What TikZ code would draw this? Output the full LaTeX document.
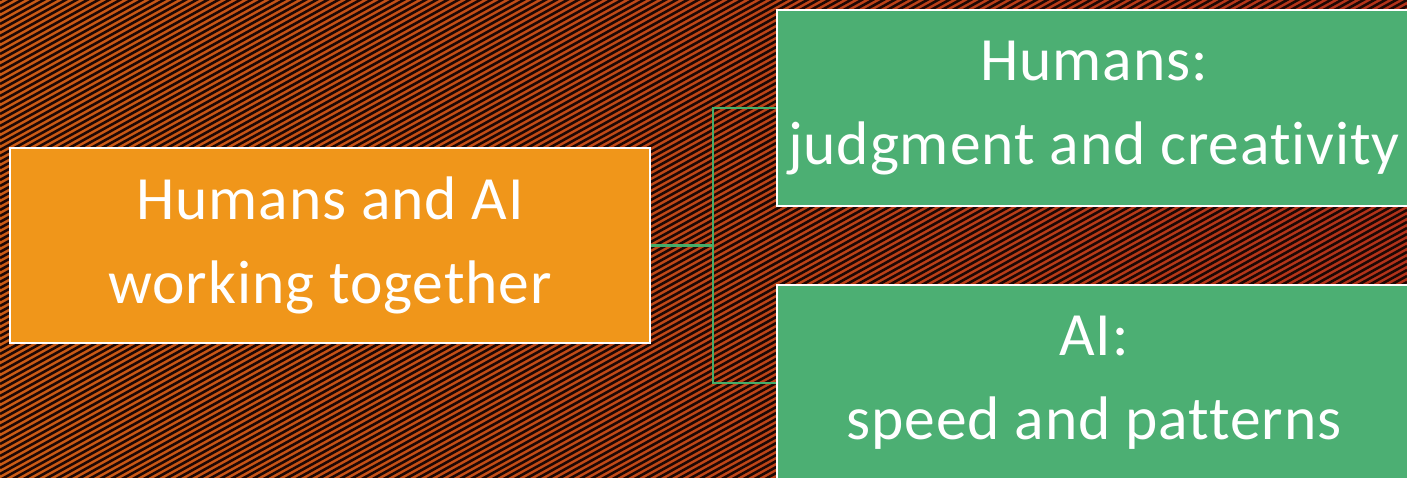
\documentclass[tikz,border=0pt]{standalone}
\usepackage{fontspec}
\setmainfont{Carlito}[LetterSpace=1.5, Ligatures=NoCommon]
\usepackage{tikz}

\definecolor{bgleft}{HTML}{CC5C16}
\definecolor{bgright}{HTML}{B3321A}
\definecolor{stripedark}{HTML}{1E0804}
\definecolor{mainorange}{HTML}{F0961A}
\definecolor{boxgreen}{HTML}{4CAF73}
\definecolor{linkgreen}{HTML}{44AD6A}

\tikzset{
    box/.style={draw=white, line width=1.2pt, text=white, align=center,
        font=\fontsize{35}{47.8}\selectfont, inner sep=0pt},
    mainbox/.style={box, fill=mainorange, minimum width=12.8cm, minimum height=3.9cm},
    sidebox/.style={box, fill=boxgreen, minimum width=12.68cm, minimum height=3.92cm},
    link/.style={draw=linkgreen, line width=1.5pt},
    stripe/.style={draw=stripedark, line width=1.45pt}
}

\begin{document}
\begin{tikzpicture}[x=0.02cm, y=-0.02cm]
    % Background with diagonal stripes
    \useasboundingbox (0,0) rectangle (1407,477);
    \begin{scope}
        \clip (0,0) rectangle (1407,477);
        \shade[left color=bgleft, right color=bgright] (0,0) rectangle (1407,477);
        \foreach \c in {0,6,...,1260}
            \draw[stripe] (0,\c) -- (1407,\c-774);
    \end{scope}

    % Main boxes
    \node[mainbox] (team) at (330,245.5) {Humans and AI\\working together};
    \node[sidebox] (humans) at (1094,108) {Humans:\\judgment and creativity};
    \node[sidebox] (ai) at (1094,383) {AI:\\speed and patterns};

    % Connectors
    \coordinate (hub) at (713,245.5);
    \draw[link] (team.east) -- (hub);
    \draw[link] (hub) |- (humans.west);
    \draw[link] (hub) |- (ai.west);
\end{tikzpicture}
\end{document}
